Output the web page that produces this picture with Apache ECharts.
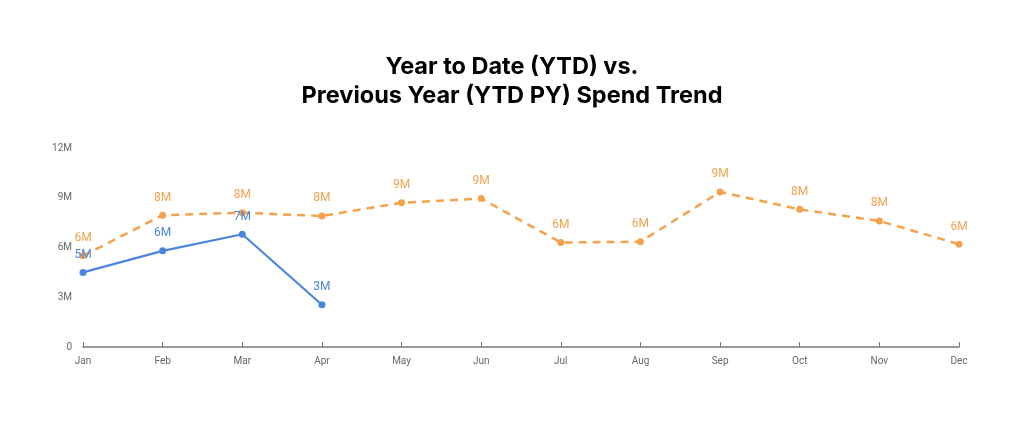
<!DOCTYPE html>
<html><head><meta charset="utf-8">
<script src="https://cdn.jsdelivr.net/npm/echarts@6/dist/echarts.min.js"></script>
<style>html,body{margin:0;padding:0;background:#fff}#c{width:1024px;height:425px}</style>
</head><body><div id="c"></div>
<script>
const months = ['Jan','Feb','Mar','Apr','May','Jun','Jul','Aug','Sep','Oct','Nov','Dec'];
const ytd = [4.5, 5.8, 6.8, 2.55, null, null, null, null, null, null, null, null];
const ytdPY = [5.5, 7.95, 8.1, 7.9, 8.7, 8.95, 6.3, 6.35, 9.35, 8.3, 7.6, 6.2];
const yTicks = [0, 3, 6, 9, 12];

const chart = echarts.init(document.getElementById('c'));
const fmt = p => Math.round(p.value) + 'M';
chart.setOption({
  animation: false,
  title: {
    text: 'Year to Date (YTD) vs.\nPrevious Year (YTD PY) Spend Trend',
    left: 'center', top: 47,
    textStyle: {fontFamily: 'Inter', fontWeight: 'bold', fontSize: 23.5, lineHeight: 29, color: '#000'}
  },
  grid: {left: 83, right: 65, top: 148, bottom: 78},
  xAxis: {
    type: 'category', data: months, boundaryGap: false,
    axisLine: {lineStyle: {color: '#777', width: 1.5}},
    axisTick: {inside: true, length: 5, lineStyle: {color: '#777'}},
    axisLabel: {color: '#666', fontSize: 10, margin: 9, fontFamily: 'Roboto'}
  },
  yAxis: {
    type: 'value', min: yTicks[0], max: yTicks[yTicks.length - 1], interval: 3,
    axisLine: {show: false}, axisTick: {show: false}, splitLine: {show: false},
    axisLabel: {color: '#666', fontSize: 10, margin: 11, fontFamily: 'Roboto',
      formatter: v => v === 0 ? '0' : v + 'M'}
  },
  series: [
    {
      name: 'YTD PY', type: 'line', data: ytdPY, symbol: 'circle', symbolSize: 7,
      itemStyle: {color: '#f4a24c'},
      lineStyle: {color: '#f4a24c', width: 2.5, type: [8, 6]},
      label: {show: true, position: 'top', distance: 8, color: '#f4a24c', fontSize: 12, fontFamily: 'Roboto', formatter: fmt}
    },
    {
      name: 'YTD', type: 'line', data: ytd, symbol: 'circle', symbolSize: 7,
      itemStyle: {color: '#4a86e0'},
      lineStyle: {color: '#4a86e0', width: 2.2},
      label: {show: true, position: 'top', distance: 8, color: '#4a86e0', fontSize: 12, fontFamily: 'Roboto', formatter: fmt}
    }
  ]
});
</script></body></html>
